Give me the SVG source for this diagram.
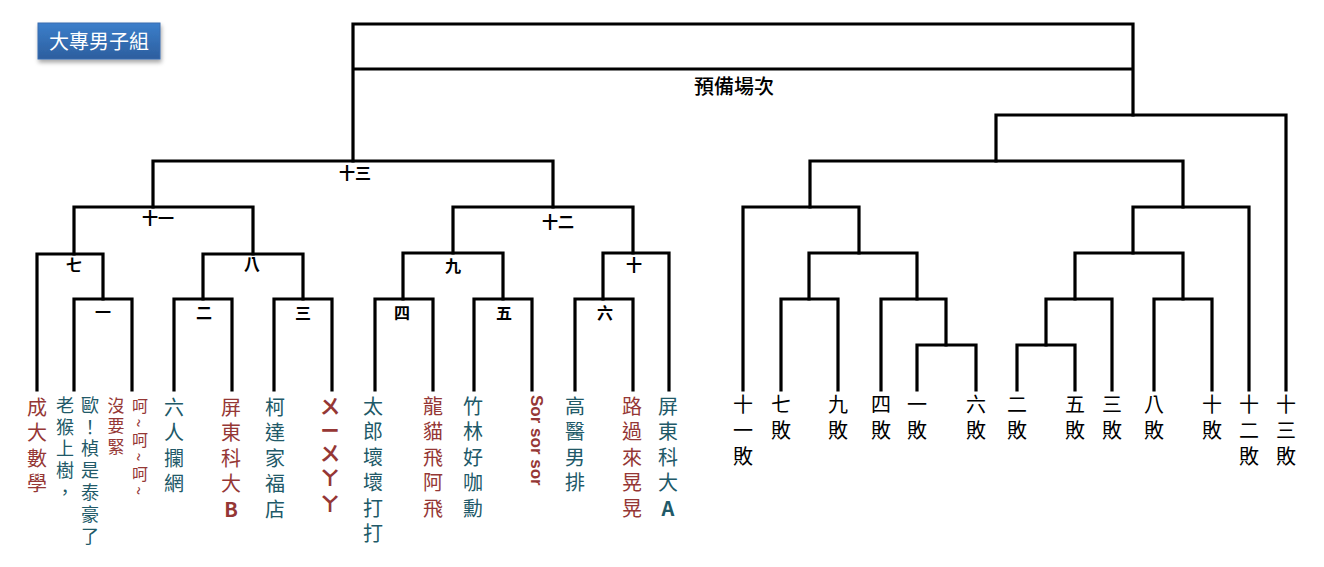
<svg xmlns="http://www.w3.org/2000/svg" width="1324" height="567" viewBox="0 0 1324 567">
<defs>
<linearGradient id="tg" x1="0" y1="0" x2="0" y2="1">
<stop offset="0" stop-color="#3c7fcb"/>
<stop offset="1" stop-color="#2c5e9e"/>
</linearGradient>
<filter id="sh" x="-20%" y="-30%" width="140%" height="170%">
<feDropShadow dx="1" dy="3" stdDeviation="2" flood-color="#000" flood-opacity="0.35"/>
</filter>
</defs>
<style>
.ln{fill:none;stroke:#000;stroke-width:3.2;stroke-linejoin:miter;stroke-linecap:square}
.lb{font-family:"Noto Sans CJK TC","Noto Sans CJK SC",sans-serif;font-size:16px;font-weight:700;fill:#000;text-anchor:middle}
.rs{font-size:20px;font-weight:500}
.v{font-family:"Noto Sans CJK TC","Noto Sans CJK SC",sans-serif;writing-mode:vertical-rl;font-size:20px;letter-spacing:5.5px}
.s18{font-size:18px;letter-spacing:3.8px}
.s17{font-size:17px;letter-spacing:3.5px}
.s16{font-size:16px;letter-spacing:4.5px}
.red{fill:#953735}
.teal{fill:#215968}
.blk{fill:#000;letter-spacing:6px}
.up{text-orientation:upright}
.b{font-weight:bold}
.lat{font-family:"Liberation Sans",Arial,sans-serif;font-weight:bold;font-size:17px}
</style>
<rect width="1324" height="567" fill="#fff"/>
<g id="title">
<rect x="38" y="23" width="122" height="36" fill="url(#tg)" stroke="#3a6db0" stroke-width="1" filter="url(#sh)"/>
<text x="99" y="49" font-family="Noto Sans CJK TC,sans-serif" font-size="20" fill="#fff" text-anchor="middle">大專男子組</text>
</g>
<g id="connectors">
<path class="ln" d="M353,161 V24 H1133 V115 M353,69 H1133"/>
<path class="ln" d="M153,207 V161 H553 V207"/>
<path class="ln" d="M74,254 V207 H253 V254"/>
<path class="ln" d="M453,253 V207 H633 V253"/>
<path class="ln" d="M37,390 V254 H103 V299"/>
<path class="ln" d="M74,390 V299 H132 V390"/>
<path class="ln" d="M203,299 V254 H303 V299"/>
<path class="ln" d="M174,390 V299 H232 V390"/>
<path class="ln" d="M274,390 V299 H332 V390"/>
<path class="ln" d="M403,299 V253 H503 V299"/>
<path class="ln" d="M375,390 V299 H433 V390"/>
<path class="ln" d="M474,390 V299 H532 V390"/>
<path class="ln" d="M603,299 V253 H669 V390"/>
<path class="ln" d="M575,390 V299 H633 V390"/>
<path class="ln" d="M996,161 V115 H1286 V390"/>
<path class="ln" d="M810,207 V161 H1183 V207"/>
<path class="ln" d="M743,390 V207 H859 V253"/>
<path class="ln" d="M809,299 V253 H917 V299"/>
<path class="ln" d="M781,390 V299 H838 V390"/>
<path class="ln" d="M881,390 V299 H946 V345"/>
<path class="ln" d="M917,390 V345 H976 V390"/>
<path class="ln" d="M1133,253 V207 H1249 V390"/>
<path class="ln" d="M1075,299 V253 H1183 V299"/>
<path class="ln" d="M1046,345 V299 H1112 V390"/>
<path class="ln" d="M1017,390 V345 H1075 V390"/>
<path class="ln" d="M1154,390 V299 H1212 V390"/>
</g>
<g id="m-reserve"><text x="734" y="94" class="lb rs">預備場次</text></g>
<g id="m13"><text x="355" y="179" class="lb">十三</text></g>
<g id="m11"><text x="158" y="224" class="lb">十一</text></g>
<g id="m12"><text x="558" y="228" class="lb">十二</text></g>
<g id="m7"><text x="74" y="271" class="lb">七</text></g>
<g id="m8"><text x="252" y="270" class="lb">八</text></g>
<g id="m9"><text x="453" y="272" class="lb">九</text></g>
<g id="m10"><text x="634" y="271" class="lb">十</text></g>
<g id="m1"><text x="103" y="318" class="lb">一</text></g>
<g id="m2"><text x="204" y="319" class="lb">二</text></g>
<g id="m3"><text x="303" y="319" class="lb">三</text></g>
<g id="m4"><text x="402" y="319" class="lb">四</text></g>
<g id="m5"><text x="504" y="319" class="lb">五</text></g>
<g id="m6"><text x="605" y="319" class="lb">六</text></g>
<g id="t1"><text x="37" y="397" class="v red">成大數學</text></g>
<g id="t2"><text x="65" y="396" class="v s18 teal">老猴上樹，</text><text x="90" y="396" class="v s18 teal">歐！楨是泰豪了</text></g>
<g id="t3"><text x="116" y="397" class="v s17 red">沒要緊</text><text x="140" y="398" class="v s16 red">呵~呵~呵~</text></g>
<g id="t4"><text x="174" y="397" class="v teal">六人攔網</text></g>
<g id="t5"><text x="231" y="397" class="v up red">屏東科大<tspan class="b">B</tspan></text></g>
<g id="t6"><text x="275" y="397" class="v teal">柯達家福店</text></g>
<g id="t7"><text x="330" y="396" class="v b red">ㄨㄧㄨㄚㄚ</text></g>
<g id="t8"><text x="373" y="396" class="v teal">太郎壞壞打打</text></g>
<g id="t9"><text x="433" y="396" class="v red">龍貓飛阿飛</text></g>
<g id="t10"><text x="473" y="396" class="v teal">竹林好咖勳</text></g>
<g id="t11"><text transform="translate(531,395) rotate(90)" class="lat red">Sor sor sor</text></g>
<g id="t12"><text x="575" y="396" class="v teal">高醫男排</text></g>
<g id="t13"><text x="632" y="396" class="v red">路過來晃晃</text></g>
<g id="t14"><text x="668" y="396" class="v up teal">屏東科大<tspan class="b">A</tspan></text></g>
<g id="l11"><text x="743" y="394" class="v blk">十一敗</text></g>
<g id="l7"><text x="781" y="394" class="v blk">七敗</text></g>
<g id="l9"><text x="838" y="394" class="v blk">九敗</text></g>
<g id="l4"><text x="881" y="394" class="v blk">四敗</text></g>
<g id="l1"><text x="917" y="394" class="v blk">一敗</text></g>
<g id="l6"><text x="976" y="394" class="v blk">六敗</text></g>
<g id="l2"><text x="1017" y="394" class="v blk">二敗</text></g>
<g id="l5"><text x="1075" y="394" class="v blk">五敗</text></g>
<g id="l3"><text x="1112" y="394" class="v blk">三敗</text></g>
<g id="l8"><text x="1154" y="394" class="v blk">八敗</text></g>
<g id="l10"><text x="1212" y="394" class="v blk">十敗</text></g>
<g id="l12"><text x="1249" y="394" class="v blk">十二敗</text></g>
<g id="l13"><text x="1286" y="394" class="v blk">十三敗</text></g>
</svg>
